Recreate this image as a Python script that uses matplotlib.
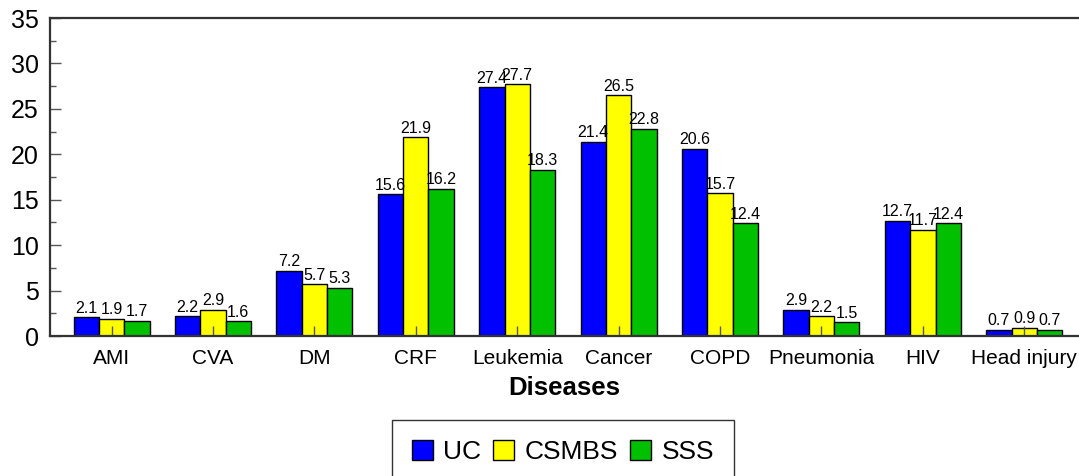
import numpy as np
import matplotlib
matplotlib.use("Agg")
import matplotlib.pyplot as plt

plt.rcParams['font.family'] = ['Liberation Sans', 'DejaVu Sans']

diseases = ["AMI", "CVA", "DM", "CRF", "Leukemia", "Cancer", "COPD",
            "Pneumonia", "HIV", "Head injury"]
uc = [2.1, 2.2, 7.2, 15.6, 27.4, 21.4, 20.6, 2.9, 12.7, 0.7]
csmbs = [1.9, 2.9, 5.7, 21.9, 27.7, 26.5, 15.7, 2.2, 11.7, 0.9]
sss = [1.7, 1.6, 5.3, 16.2, 18.3, 22.8, 12.4, 1.5, 12.4, 0.7]

series = [("UC", uc, "#0000ff"), ("CSMBS", csmbs, "#ffff00"), ("SSS", sss, "#00c000")]

fig = plt.figure(figsize=(10.79, 4.76), dpi=100)
ax = fig.add_axes([50 / 1079, 140 / 476, 1029 / 1079, 318 / 476])

x = np.arange(len(diseases))
w = 0.25
for i, (name, vals, col) in enumerate(series):
    bars = ax.bar(x + (i - 1) * w, vals, w, color=col, edgecolor="black",
                  linewidth=1.0, label=name)
    ax.bar_label(bars, labels=[f"{v:g}" for v in vals], padding=1, fontsize=11.5)

ax.set_xlim(-0.607, 9.54)
ax.set_ylim(0, 35)
ax.set_yticks(np.arange(0, 36, 5))
ax.set_yticks(np.arange(2.5, 35, 5), minor=True)
ax.set_xticks(x)
ax.set_xticklabels(diseases, fontsize=15)
ax.tick_params(axis="y", labelsize=18, direction="in", length=8, width=1,
               color="#555555", pad=8)
ax.tick_params(axis="y", which="minor", direction="in", length=4, width=1,
               color="#555555")
ax.tick_params(axis="x", direction="in", length=7, width=1, color="#555555", pad=9)

for side in ["left", "bottom", "top"]:
    ax.spines[side].set_color("#333333")
    ax.spines[side].set_linewidth(1.6)
ax.spines["right"].set_visible(False)

ax.set_xlabel("Diseases", fontsize=18.5, fontweight="bold", labelpad=6)

leg = fig.legend(loc="upper center", bbox_to_anchor=(563 / 1079, 56 / 476),
                 ncol=3, fontsize=19, frameon=True, fancybox=False,
                 edgecolor="black", handlelength=0.8, handleheight=0.8,
                 handletextpad=0.4, columnspacing=0.45, borderpad=0.75,
                 borderaxespad=0)
leg.get_frame().set_linewidth(1.0)

fig.savefig("out.png", dpi=100)
